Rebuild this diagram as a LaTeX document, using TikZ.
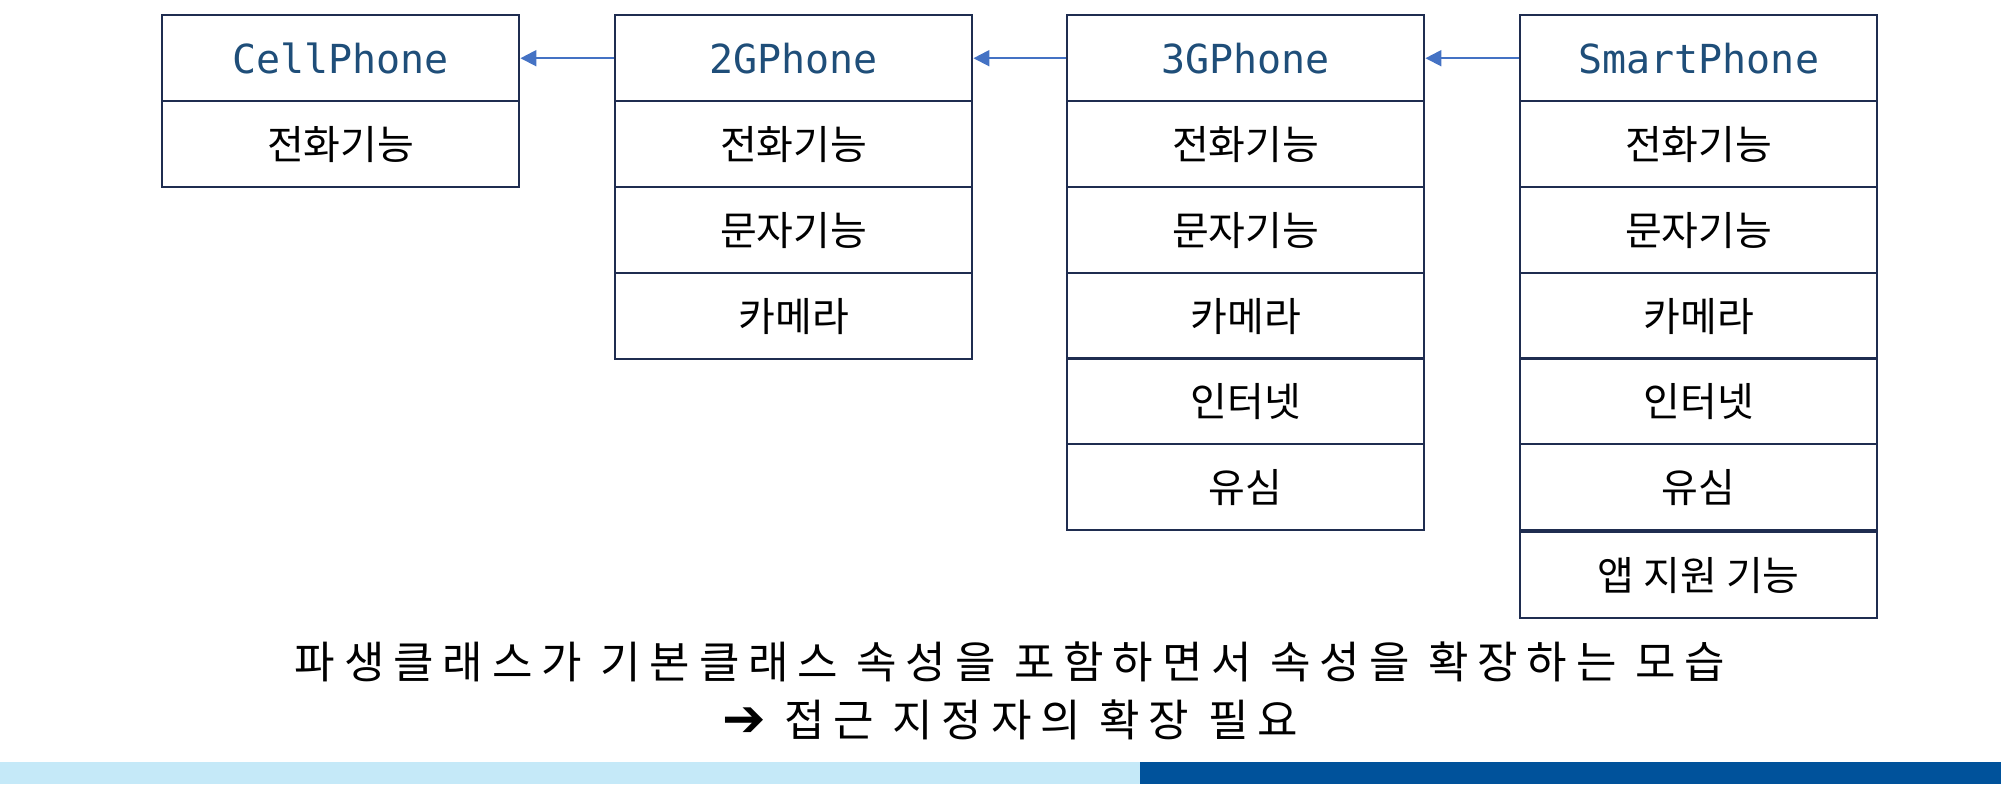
\documentclass[tikz,border=0pt]{standalone}
\usepackage{fontspec}
\setmainfont{Noto Sans CJK KR}
\newfontfamily\hdrfont{DejaVu Sans Mono}
\newfontfamily\symfont{DejaVu Sans}
\newfontfamily\widefont[LetterSpace=20]{Noto Sans CJK KR}
\definecolor{hdr}{HTML}{1F4E79}
\definecolor{bord}{HTML}{1F2D50}
\definecolor{arr}{HTML}{4472C4}
\definecolor{lightbar}{HTML}{C5E9F8}
\definecolor{darkbar}{HTML}{00529B}
\usetikzlibrary{arrows.meta}
\tikzset{
 cell/.style={draw=bord,line width=1.2pt,minimum width=178.5pt,minimum height=43pt,inner sep=0pt,anchor=north west,font=\fontsize{20}{22}\selectfont},
 hcell/.style={cell,text=hdr,font=\hdrfont\fontsize{20}{22}\selectfont},
 inh/.style={draw=arr,line width=1pt,-{Triangle[length=8pt,width=8pt]}},
 caption/.style={font=\widefont\fontsize{22}{24}\selectfont}
}
\begin{document}
\begin{tikzpicture}[x=0.5pt,y=-0.5pt]
\useasboundingbox (0,0) rectangle (2001,784);
\fill[lightbar] (0,762) rectangle (1140,784);
\fill[darkbar] (1140,762) rectangle (2001,784);
% box 1
\node[hcell] (a0) at (161,14) {CellPhone};
\node[cell] (a1) at (161,100) {전화기능};
% box 2
\node[hcell] (b0) at (614,14) {2GPhone};
\node[cell] (b1) at (614,100) {전화기능};
\node[cell] (b2) at (614,186) {문자기능};
\node[cell] (b3) at (614,272) {카메라};
% box 3
\node[hcell] (c0) at (1066,14) {3GPhone};
\node[cell] (c1) at (1066,100) {전화기능};
\node[cell] (c2) at (1066,186) {문자기능};
\node[cell] (c3) at (1066,272) {카메라};
\node[cell] (c4) at (1066,357) {인터넷};
\node[cell] (c5) at (1066,443) {유심};
% box 4
\node[hcell] (d0) at (1519,14) {SmartPhone};
\node[cell] (d1) at (1519,100) {전화기능};
\node[cell] (d2) at (1519,186) {문자기능};
\node[cell] (d3) at (1519,272) {카메라};
\node[cell] (d4) at (1519,357) {인터넷};
\node[cell] (d5) at (1519,443) {유심};
\node[cell] (d6) at (1519,531) {앱 지원 기능};
\draw[inh] (b0.west) -- (a0.east);
\draw[inh] (c0.west) -- (b0.east);
\draw[inh] (d0.west) -- (c0.east);
\node[caption] (t1) at (1010,662) {파생클래스가 기본클래스 속성을 포함하면서 속성을 확장하는 모습};
\node[caption] (t2) at (1010,720) {{\symfont\fontsize{26}{26}\selectfont ➔} 접근 지정자의 확장 필요};
\end{tikzpicture}
\end{document}
